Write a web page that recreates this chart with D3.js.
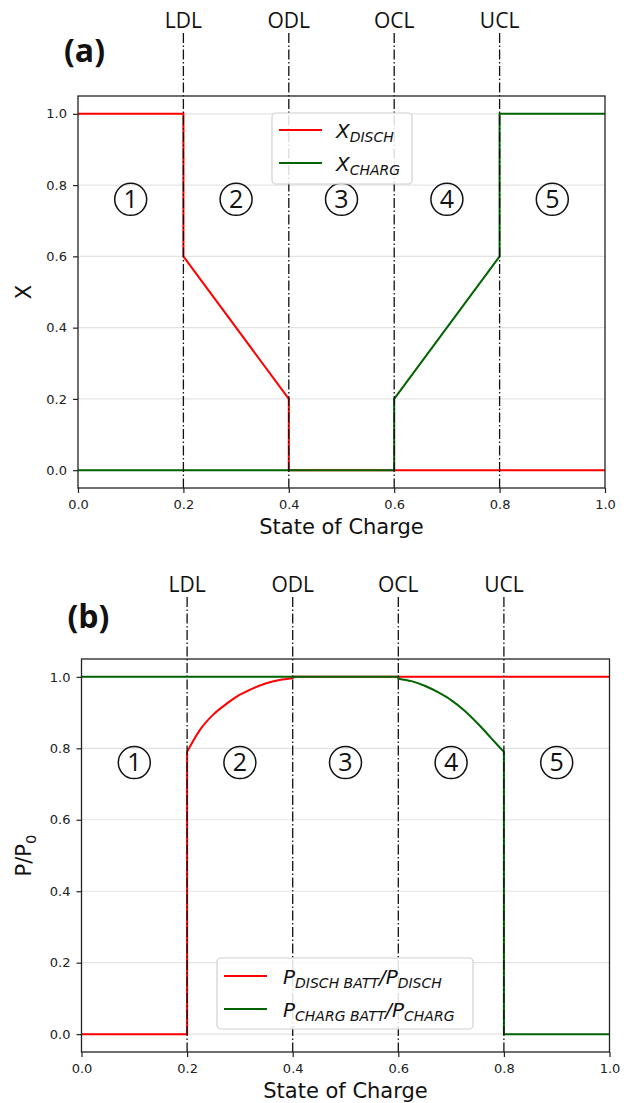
<!DOCTYPE html>
<html>
<head>
<meta charset="utf-8">
<script src="https://cdn.jsdelivr.net/npm/d3@7"></script>
<style>
  body { margin: 0; background: #fff; }
  svg { display: block; }
</style>
</head>
<body>
<div id="chart"></div>
<script>
// ---- data ----
const socTicks = [0, 0.2, 0.4, 0.6, 0.8, 1.0];
const yTicks = [0, 0.2, 0.4, 0.6, 0.8, 1.0];
const limitNames = ["LDL", "ODL", "OCL", "UCL"];
const limitSoc = [0.2, 0.4, 0.6, 0.8];
const zoneNames = ["1", "2", "3", "4", "5"];
const zoneSoc = [0.1, 0.3, 0.5, 0.7, 0.9];
const zoneLevel = 0.76;

// panel (a)
const dischSocA = [0, 0.2, 0.2, 0.4, 0.4, 1.0];
const dischValA = [1, 1, 0.6, 0.2, 0, 0];
const chargSocA = [0, 0.6, 0.6, 0.8, 0.8, 1.0];
const chargValA = [0, 0, 0.2, 0.6, 1, 1];

// panel (b)
const dischSocB = [0, 0.2, 0.2, 0.225, 0.25, 0.275, 0.3, 0.325, 0.35, 0.375, 0.4, 0.4, 1.0];
const dischValB = [0, 0, 0.79, 0.853, 0.895, 0.925, 0.95, 0.968, 0.982, 0.991, 0.996, 1, 1];
const chargSocB = [0, 0.6, 0.6, 0.625, 0.65, 0.675, 0.7, 0.725, 0.75, 0.775, 0.8, 0.8, 1.0];
const chargValB = [1, 1, 0.995, 0.988, 0.975, 0.957, 0.935, 0.906, 0.87, 0.83, 0.79, 0, 0];

const RED = "#ff0000", GREEN = "#006400";

const svg = d3.select("#chart").append("svg")
  .attr("width", 630)
  .attr("height", 1103);

// rich text helper: parts = [[text, isSub], ...]
function richText(sel, x, y, parts, size, style) {
  const t = sel.append("text")
    .attr("x", x).attr("y", y)
    .style("font-family", "DejaVu Sans")
    .style("font-style", style || "italic")
    .style("font-size", size + "px")
    .attr("fill", "#111");
  let sub = false;
  parts.forEach(p => {
    const dy = p[1] && !sub ? size * 0.22 : (!p[1] && sub ? -size * 0.22 : 0);
    t.append("tspan")
      .attr("dy", dy)
      .style("font-size", (p[1] ? size * 0.7 : size) + "px")
      .text(p[0]);
    sub = p[1];
  });
  return t;
}

// split at vertical jumps so the smooth parts can be curved
function stepPath(xs, ys, x, y) {
  const pts = xs.map((d, i) => [x(d), y(ys[i])]);
  const runs = [];
  let run = [pts[0]];
  for (let i = 1; i < pts.length; i++) {
    if (xs[i] === xs[i - 1]) { runs.push(run); run = [pts[i]]; }
    else run.push(pts[i]);
  }
  runs.push(run);
  const line = d3.line().curve(d3.curveMonotoneX);
  return runs.map((r, i) => {
    const d = r.length > 1 ? line(r) : "M" + r[0][0] + "," + r[0][1];
    return i ? d.replace(/^M/, "L") : d;
  }).join("");
}

function panel(cfg) {
  const x = d3.scaleLinear().domain([0, 1]).range([cfg.left, cfg.right]);
  const y = d3.scaleLinear().domain([-0.05, 1.05]).range([cfg.bottom, cfg.top]);
  const g = svg.append("g");

  // horizontal grid
  g.append("g").selectAll("line")
    .data(yTicks).enter().append("line")
    .attr("x1", cfg.left).attr("x2", cfg.right)
    .attr("y1", d => y(d)).attr("y2", d => y(d))
    .attr("stroke", "#e3e3e3").attr("stroke-width", 1.2);

  // curves (green drawn last, it sits on top)
  g.append("path")
    .attr("d", stepPath(cfg.dischSoc, cfg.dischVal, x, y))
    .attr("fill", "none").attr("stroke", RED).attr("stroke-width", 2);
  g.append("path")
    .attr("d", stepPath(cfg.chargSoc, cfg.chargVal, x, y))
    .attr("fill", "none").attr("stroke", GREEN).attr("stroke-width", 2);

  // limit lines + names
  g.append("g").selectAll("line")
    .data(limitSoc).enter().append("line")
    .attr("x1", d => x(d)).attr("x2", d => x(d))
    .attr("y1", cfg.lineTop).attr("y2", cfg.bottom)
    .attr("stroke", "#111").attr("stroke-width", 1.3)
    .attr("stroke-dasharray", "10,2.5,1.5,2.5");
  g.append("g").selectAll("text")
    .data(limitNames).enter().append("text")
    .attr("x", (d, i) => x(limitSoc[i]))
    .attr("y", cfg.nameY)
    .attr("text-anchor", "middle")
    .style("font-family", "Open Sans")
    .style("font-size", "21px")
    .attr("fill", "#111")
    .text(d => d);

  // zone numbers
  const z = g.append("g").selectAll("g")
    .data(zoneNames).enter().append("g")
    .attr("transform", (d, i) => "translate(" + x(zoneSoc[i]) + "," + y(zoneLevel) + ")");
  z.append("circle").attr("r", 16)
    .attr("fill", "none").attr("stroke", "#111").attr("stroke-width", 1.5);
  z.append("text")
    .attr("text-anchor", "middle").attr("dy", "0.35em")
    .style("font-family", "Open Sans").style("font-size", "25px")
    .attr("fill", "#111")
    .text(d => d);

  // axes
  const fmt = d3.format(".1f");
  const ax = g.append("g")
    .attr("transform", "translate(0," + cfg.bottom + ")")
    .call(d3.axisBottom(x).tickValues(socTicks).tickFormat(fmt).tickSize(5).tickPadding(7));
  const ay = g.append("g")
    .attr("transform", "translate(" + cfg.left + ",0)")
    .call(d3.axisLeft(y).tickValues(yTicks).tickFormat(fmt).tickSize(5).tickPadding(6));
  [ax, ay].forEach(a => {
    a.select(".domain").remove();
    a.selectAll("line").attr("stroke", "#222").attr("stroke-width", 1.2);
    a.selectAll("text").style("font-family", "DejaVu Sans").style("font-size", "13px").attr("fill", "#222");
  });
  g.append("rect")
    .attr("x", cfg.left).attr("y", cfg.top)
    .attr("width", cfg.right - cfg.left).attr("height", cfg.bottom - cfg.top)
    .attr("fill", "none").attr("stroke", "#222").attr("stroke-width", 1.3);

  // axis titles
  g.append("text")
    .attr("x", (cfg.left + cfg.right) / 2).attr("y", cfg.bottom + 46)
    .attr("text-anchor", "middle")
    .style("font-family", "DejaVu Sans").style("font-size", "21px")
    .attr("fill", "#111")
    .text("State of Charge");
  richText(g, 0, 0, cfg.yLabel, 21, "normal")
    .attr("text-anchor", "middle")
    .attr("transform", "translate(31," + (cfg.top + cfg.bottom) / 2 + ") rotate(-90)");

  // panel letter
  g.append("text")
    .attr("x", cfg.left - 14).attr("y", cfg.letterY)
    .style("font-family", "Open Sans").style("font-weight", "bold").style("font-size", "32px")
    .attr("fill", "#111")
    .text(cfg.letter);

  // legend
  const L = cfg.legend;
  const lg = g.append("g");
  lg.append("rect")
    .attr("x", L.x).attr("y", L.y).attr("width", L.w).attr("height", L.h)
    .attr("rx", 4)
    .attr("fill", "#fff").attr("fill-opacity", 0.85)
    .attr("stroke", "#d0d0d0").attr("stroke-width", 1.2);
  L.items.forEach((it, i) => {
    const cy = L.y + L.first + i * L.step;
    lg.append("line")
      .attr("x1", L.x + 7).attr("x2", L.x + 50)
      .attr("y1", cy).attr("y2", cy)
      .attr("stroke", it.color).attr("stroke-width", 2);
    richText(lg, L.x + L.textDx, cy + 7.5, it.parts, 20);
  });
}

panel({
  left: 78, right: 605, top: 96, bottom: 488,
  lineTop: 33, nameY: 28, letter: "(a)", letterY: 62,
  dischSoc: dischSocA, dischVal: dischValA,
  chargSoc: chargSocA, chargVal: chargValA,
  yLabel: [["X", false]],
  legend: {
    x: 272, y: 113, w: 140, h: 71, first: 17, step: 33, textDx: 64,
    items: [
      { color: RED, parts: [["X", false], ["DISCH", true]] },
      { color: GREEN, parts: [["X", false], ["CHARG", true]] }
    ]
  }
});

panel({
  left: 81.5, right: 609.5, top: 659, bottom: 1052,
  lineTop: 597, nameY: 592, letter: "(b)", letterY: 628,
  dischSoc: dischSocB, dischVal: dischValB,
  chargSoc: chargSocB, chargVal: chargValB,
  yLabel: [["P/P", false], ["0", true]],
  legend: {
    x: 217, y: 958, w: 256, h: 71, first: 18, step: 33, textDx: 66,
    items: [
      { color: RED, parts: [["P", false], ["DISCH BATT", true], ["/P", false], ["DISCH", true]] },
      { color: GREEN, parts: [["P", false], ["CHARG BATT", true], ["/P", false], ["CHARG", true]] }
    ]
  }
});
</script>
</body>
</html>
